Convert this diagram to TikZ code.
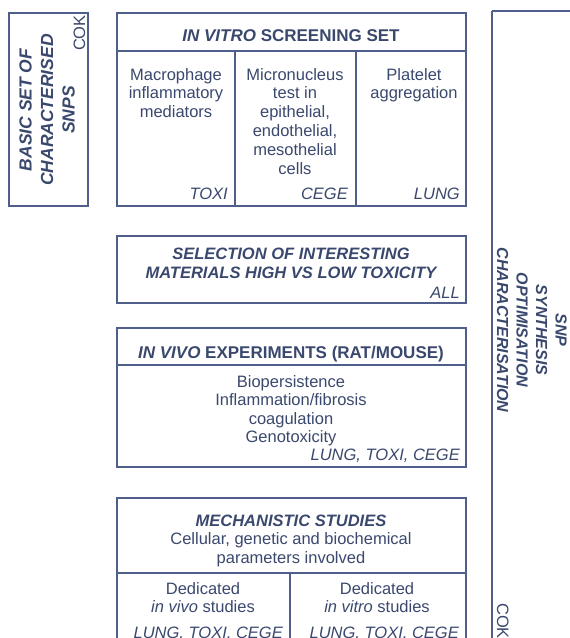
\documentclass[tikz,border=0pt]{standalone}
\usepackage{fontspec}
\setmainfont{Liberation Sans}
\definecolor{ink}{RGB}{58,72,110}
\definecolor{frame}{RGB}{80,94,140}
\tikzset{
	txt/.style={text=ink, inner sep=0pt, align=center, font=\fontsize{16.5}{18.8}\selectfont},
	hdr/.style={txt, anchor=base, font=\fontsize{17}{19}\selectfont\bfseries},
	tag/.style={txt, anchor=base east, font=\fontsize{16.5}{18.8}\selectfont\itshape},
	side/.style={txt, font=\fontsize{17.5}{21.5}\selectfont\bfseries\itshape},
	box/.style={draw=frame, line width=1.3pt}
}

\begin{document}
\begin{tikzpicture}[x=1pt, y=-1pt]
		%%%%% START %%%%%
		\useasboundingbox (0,0) rectangle (570,638);
		\clip (0,0) rectangle (570,638);
		
		% basic set
		\draw[box] (9,13) rectangle (88,206);
		\node[side, rotate=90] (basic) at (47,110) {BASIC SET OF\\CHARACTERISED\\SNPS};
		\node[txt, rotate=90, anchor=base east] (cokA) at (85,15) {COK};
		
		% in vitro screening (base = last line)
		\draw[box] (117,13) rectangle (466,206);
		\draw[box] (117,51) -- (466,51);
		\draw[box] (235,51) -- (235,206);
		\draw[box] (356,51) -- (356,206);
		\node[hdr] (vitro) at (291,41) {\textit{IN VITRO} SCREENING SET};
		\node[txt, anchor=base] (macro) at (176,117.6) {Macrophage\\inflammatory\\mediators};
		\node[txt, anchor=base] (micro) at (295,174) {Micronucleus\\test in\\epithelial,\\endothelial,\\mesothelial\\cells};
		\node[txt, anchor=base] (plate) at (414,98.8) {Platelet\\aggregation};
		\node[tag] (toxi) at (228,199) {TOXI};
		\node[tag] (cege) at (348,199) {CEGE};
		\node[tag] (lung) at (460,199) {LUNG};
		
		% selection
		\draw[box] (117,236) rectangle (466,303);
		\node[hdr, font=\fontsize{16.5}{19}\selectfont\bfseries\itshape] (select) at (291,278) {SELECTION OF INTERESTING\\MATERIALS HIGH VS LOW TOXICITY};
		\node[tag] (all) at (460,298) {ALL};
		
		% in vivo experiments
		\draw[box] (117,328) rectangle (466,467);
		\draw[box] (117,365) -- (466,365);
		\node[hdr] (vivo) at (291,358) {\textit{IN VIVO} EXPERIMENTS (RAT/MOUSE)};
		\node[txt, anchor=base, font=\fontsize{16.5}{18.5}\selectfont] (endpts) at (291,442.5) {Biopersistence\\Inflammation/fibrosis\\coagulation\\Genotoxicity};
		\node[tag] (vivotag) at (460,460) {LUNG, TOXI, CEGE};
		
		% mechanistic studies
		\draw[box] (117,498) rectangle (466,660);
		\draw[box] (117,573) -- (466,573);
		\draw[box] (290,573) -- (290,660);
		\node[txt, anchor=base] (mech) at (291,563.6) {\textbf{\textit{MECHANISTIC STUDIES}}\\Cellular, genetic and biochemical\\parameters involved};
		\node[txt, anchor=base] (dvivo) at (203,612.8) {Dedicated\\\textit{in vivo} studies};
		\node[txt, anchor=base] (dvitro) at (377,612.8) {Dedicated\\\textit{in vitro} studies};
		\node[tag] (dvivotag) at (283,638) {LUNG, TOXI, CEGE};
		\node[tag] (dvitrotag) at (459,638) {LUNG, TOXI, CEGE};
		
		% snp synthesis
		\draw[box] (492,11) -- (600,11);
		\draw[box] (492,11) -- (492,660);
		\node[side, font=\fontsize{16}{19.5}\selectfont\bfseries\itshape, rotate=-90] (snp) at (532,330) {SNP\\SYNTHESIS\\OPTIMISATION\\CHARACTERISATION};
		\node[txt, rotate=-90, anchor=base west] (cokB) at (497,603) {COK};
		
		%%%%% END %%%%%
\end{tikzpicture}
\end{document}
